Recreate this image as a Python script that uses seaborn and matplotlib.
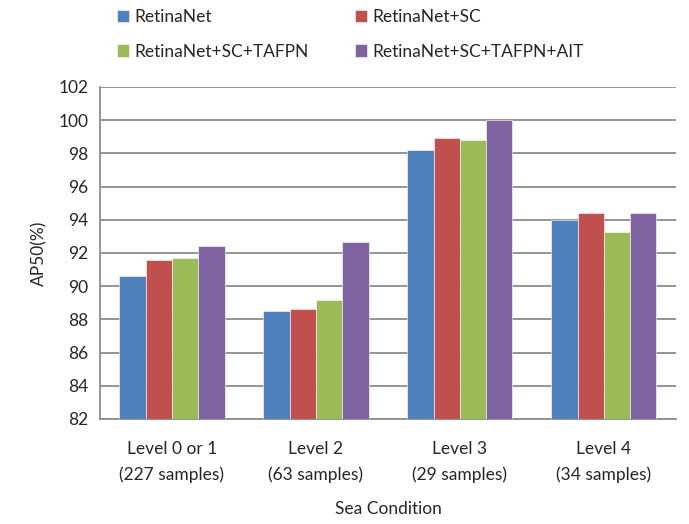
import numpy as np
import pandas as pd
import matplotlib
matplotlib.use("Agg")
import matplotlib.pyplot as plt
import seaborn as sns

# Dati
categories = ["Level 0 or 1\n(227 samples)", "Level 2\n(63 samples)",
              "Level 3\n(29 samples)", "Level 4\n(34 samples)"]
methods = ["RetinaNet", "RetinaNet+SC", "RetinaNet+SC+TAFPN", "RetinaNet+SC+TAFPN+AIT"]
retinanet = [90.6, 88.5, 98.2, 94.0]
retinanet_sc = [91.55, 88.6, 98.95, 94.4]
retinanet_sc_tafpn = [91.7, 89.15, 98.8, 93.25]
retinanet_full = [92.45, 92.65, 100.0, 94.4]
colors = ["#4F81BD", "#C0504D", "#9BBB59", "#8064A2"]

series = [retinanet, retinanet_sc, retinanet_sc_tafpn, retinanet_full]
rows = []
for m, vals in zip(methods, series):
    for c, v in zip(categories, vals):
        rows.append({"cat": c, "method": m, "ap50": v})
df = pd.DataFrame(rows)

sns.set_style("white")
plt.rcParams["font.family"] = ["Lato", "DejaVu Sans"]
grid_col = "#8C8C8C"
fs = 12.5

fig = plt.figure(figsize=(6.89, 5.24), dpi=100)
ax = fig.add_axes([0.1451, 0.2004, 0.8359, 0.6336])

sns.barplot(data=df, x="cat", y="ap50", hue="method", hue_order=methods,
            palette=colors, width=0.73, gap=0, ax=ax, edgecolor="white",
            linewidth=0.4, saturation=1, zorder=3)

ax.set_ylim(82, 102)
ax.set_yticks(np.arange(82, 103, 2))
ax.set_xlim(-0.5, 3.5)
ax.yaxis.grid(True, color=grid_col, linewidth=1.3, zorder=0)
ax.set_axisbelow(True)

for s in ["top", "right"]:
    ax.spines[s].set_visible(False)
for s in ["left", "bottom"]:
    ax.spines[s].set_color(grid_col)
    ax.spines[s].set_linewidth(1.3)

# tacche dell'asse x sui bordi delle categorie
ax.set_xticks(np.arange(-0.5, 3.6, 1), minor=True)
ax.tick_params(axis="x", which="major", length=0, labelsize=fs, pad=16)
ax.tick_params(axis="x", which="minor", length=6, width=1.3, color=grid_col)
ax.tick_params(axis="y", length=5, width=1.3, color=grid_col, labelsize=fs)
for t in ax.get_xticklabels():
    t.set_linespacing(1.7)

ax.set_xlabel("Sea Condition", fontsize=fs, labelpad=13)
ax.set_ylabel("AP50(%)", fontsize=fs, labelpad=8)

handles, labels = ax.get_legend_handles_labels()
order = [0, 2, 1, 3]
ax.legend([handles[i] for i in order], [labels[i] for i in order], ncol=2,
          loc="upper left", bbox_to_anchor=(0.147, 1.012), bbox_transform=fig.transFigure,
          frameon=False, fontsize=fs, handlelength=0.7, handleheight=0.7,
          handletextpad=0.3, labelspacing=1.05, columnspacing=2.65)

fig.savefig("out.png", dpi=100)
